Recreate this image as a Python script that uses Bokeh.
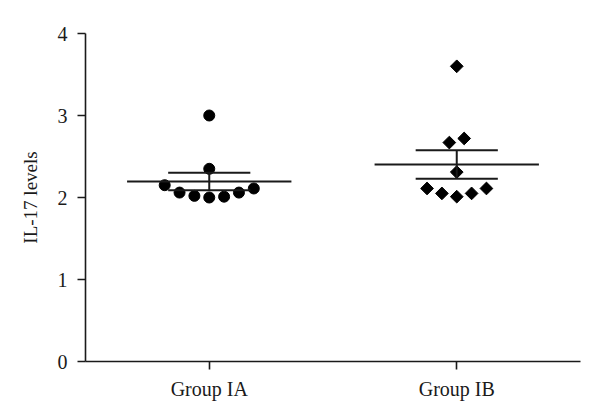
import numpy as np
from bokeh.plotting import figure
from bokeh.models import FixedTicker, ColumnDataSource
from bokeh.embed import file_html
from bokeh.resources import INLINE

# ---- data ----
groups = ["Group IA", "Group IB"]
group_pos = [1, 2]
ia_values = [3.0, 2.35, 2.15, 2.06, 2.02, 2.00, 2.01, 2.06, 2.11]
ia_jitter = [0.0, 0.0, -0.18, -0.12, -0.06, 0.0, 0.06, 0.12, 0.18]
ib_values = [3.6, 2.67, 2.72, 2.31, 2.11, 2.05, 2.01, 2.05, 2.11]
ib_jitter = [0.0, -0.03, 0.03, 0.0, -0.12, -0.06, 0.0, 0.06, 0.12]
y_ticks = [0, 1, 2, 3, 4]

FONT = "Liberation Serif"
INK = "#1a1a1a"

p = figure(width=592, height=412, x_range=(0.5, 2.5), y_range=(0, 4),
           output_backend="svg", toolbar_location=None,
           min_border_left=85, min_border_right=12,
           min_border_top=33, min_border_bottom=51)
p.frame_width = 495
p.frame_height = 328

p.grid.visible = False
p.outline_line_color = None

src_a = ColumnDataSource(dict(x=[group_pos[0] + j for j in ia_jitter], y=ia_values))
src_b = ColumnDataSource(dict(x=[group_pos[1] + j for j in ib_jitter], y=ib_values))
p.scatter("x", "y", source=src_a, marker="circle", size=11,
          fill_color="black", line_color="black")
p.scatter("x", "y", source=src_b, marker="square", size=9, angle=np.pi / 4,
          fill_color="black", line_color="black")

# mean +/- SEM
mean_half = 0.332
cap_half = 0.166
for pos, vals in zip(group_pos, [ia_values, ib_values]):
    arr = np.array(vals)
    m = arr.mean()
    sem = arr.std(ddof=1) / np.sqrt(len(arr))
    p.segment(x0=[pos - mean_half], y0=[m], x1=[pos + mean_half], y1=[m],
              line_color=INK, line_width=2)
    p.segment(x0=[pos - cap_half, pos - cap_half, pos],
              y0=[m + sem, m - sem, m - sem],
              x1=[pos + cap_half, pos + cap_half, pos],
              y1=[m + sem, m - sem, m + sem],
              line_color=INK, line_width=2)

# axes
for ax in (p.xaxis[0], p.yaxis[0]):
    ax.axis_line_color = INK
    ax.axis_line_width = 1.6
    ax.major_tick_line_color = INK
    ax.major_tick_line_width = 1.6
    ax.major_tick_out = 8
    ax.major_tick_in = 0
    ax.minor_tick_line_color = None
    ax.major_label_text_font = FONT
    ax.major_label_text_font_size = "20px"
    ax.major_label_text_color = INK

p.xaxis.ticker = FixedTicker(ticks=group_pos)
p.xaxis.major_label_overrides = {pos: g for pos, g in zip(group_pos, groups)}
p.xaxis.major_label_standoff = 8

p.yaxis.ticker = FixedTicker(ticks=y_ticks)
p.yaxis.major_label_standoff = 10
p.yaxis.axis_label = "IL-17 levels"
p.yaxis.axis_label_text_font = FONT
p.yaxis.axis_label_text_font_size = "19px"
p.yaxis.axis_label_text_font_style = "normal"
p.yaxis.axis_label_text_color = INK
p.yaxis.axis_label_standoff = 14

open("out.html", "w").write(file_html(p, INLINE))
